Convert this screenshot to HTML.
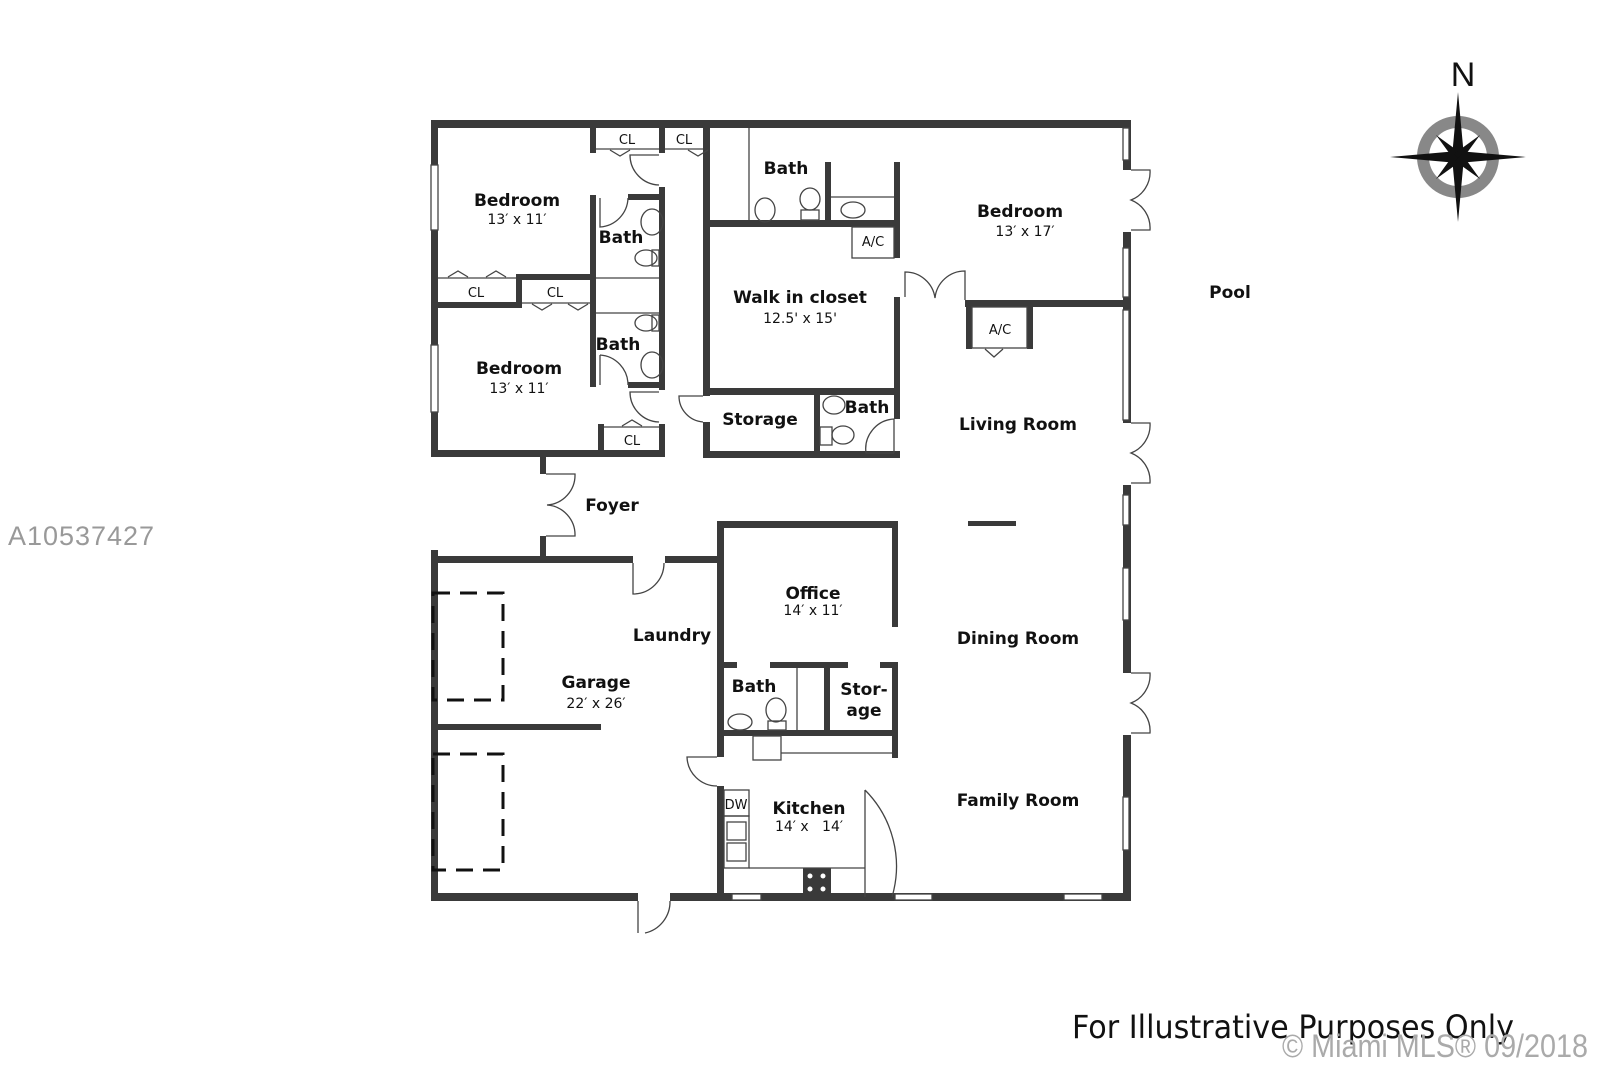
<!DOCTYPE html>
<html><head><meta charset="utf-8"><style>
html,body{margin:0;padding:0;background:#fff;}
svg{display:block}
text{font-family:"DejaVu Sans","Liberation Sans",sans-serif;fill:#111}
.b{font-weight:bold;font-size:17px}
.d{font-size:14px}
.s{font-size:13px}
</style></head><body>
<svg width="1600" height="1066" viewBox="0 0 1600 1066" xmlns="http://www.w3.org/2000/svg">
<g fill="#3a3a3a">
<rect x="431" y="120" width="700" height="8"/>
<rect x="431" y="120" width="7" height="337"/>
<rect x="431" y="450" width="234" height="7"/>
<rect x="540" y="453" width="6" height="21"/>
<rect x="540" y="536" width="6" height="26"/>
<rect x="431" y="556" width="202" height="7"/>
<rect x="665" y="556" width="55" height="7"/>
<rect x="431" y="550" width="7" height="350"/>
<rect x="431" y="893" width="207" height="8"/>
<rect x="670" y="893" width="461" height="8"/>
<rect x="1123" y="120" width="8" height="50"/>
<rect x="1123" y="232" width="8" height="191"/>
<rect x="1123" y="485" width="8" height="188"/>
<rect x="1123" y="735" width="8" height="166"/>
<rect x="438" y="724" width="163" height="6"/>
<rect x="590" y="128" width="6" height="25"/>
<rect x="659" y="128" width="6" height="25"/>
<rect x="659" y="187" width="6" height="203"/>
<rect x="590" y="195" width="6" height="192"/>
<rect x="628" y="194" width="35" height="6"/>
<rect x="628" y="382" width="35" height="6"/>
<rect x="431" y="302" width="90" height="6"/>
<rect x="516" y="274" width="6" height="34"/>
<rect x="516" y="274" width="78" height="6"/>
<rect x="598" y="424" width="6" height="30"/>
<rect x="659" y="424" width="6" height="30"/>
<rect x="703" y="124" width="7" height="272"/>
<rect x="703" y="422" width="7" height="35"/>
<rect x="703" y="220" width="195" height="7"/>
<rect x="825" y="162" width="6" height="62"/>
<rect x="894" y="162" width="6" height="96"/>
<rect x="894" y="297" width="6" height="122"/>
<rect x="703" y="388" width="197" height="7"/>
<rect x="703" y="451" width="197" height="7"/>
<rect x="814" y="388" width="6" height="68"/>
<rect x="965" y="300" width="166" height="7"/>
<rect x="966" y="303" width="6" height="46"/>
<rect x="1027" y="303" width="6" height="46"/>
<rect x="968" y="521" width="48" height="5"/>
<rect x="717" y="521" width="181" height="7"/>
<rect x="717" y="521" width="7" height="236"/>
<rect x="892" y="521" width="6" height="106"/>
<rect x="717" y="662" width="20" height="6"/>
<rect x="770" y="662" width="78" height="6"/>
<rect x="880" y="662" width="18" height="6"/>
<rect x="892" y="662" width="6" height="96"/>
<rect x="824" y="662" width="6" height="72"/>
<rect x="717" y="730" width="181" height="6"/>
<rect x="717" y="786" width="7" height="114"/>
<rect x="803" y="868" width="28" height="28"/>
</g>
<g fill="none" stroke="#444" stroke-width="1.3">
<rect x="431" y="165" width="7" height="65" fill="#fff"/>
<rect x="431" y="345" width="7" height="67" fill="#fff"/>
<rect x="1123" y="128" width="6" height="32" fill="#fff"/>
<rect x="1123" y="248" width="6" height="49" fill="#fff"/>
<rect x="1123" y="310" width="6" height="110" fill="#fff"/>
<rect x="1123" y="495" width="6" height="30" fill="#fff"/>
<rect x="1123" y="568" width="6" height="52" fill="#fff"/>
<rect x="1123" y="797" width="6" height="53" fill="#fff"/>
<rect x="732" y="894" width="29" height="6" fill="#fff"/>
<rect x="895" y="894" width="37" height="6" fill="#fff"/>
<rect x="1064" y="894" width="38" height="6" fill="#fff"/>
<path d="M596 149H659M665 149H703"/>
<path d="M610 150l10 6 10-6M688 150l10 6 10-6"/>
<path d="M438 278H516M448 277l10-6 10 6M486 277l10-6 10 6"/>
<path d="M522 303H590M532 304l10 6 10-6M568 304l10 6 10-6"/>
<path d="M604 427H659M622 426l10-6 10 6"/>
<path d="M596 278H659M596 313H659"/>
<path d="M659 155H630 A30 30 0 0 0 659 185"/>
<path d="M600 198V227 A30 30 0 0 0 628 198"/>
<path d="M600 355V385 M600 355 A30 30 0 0 1 628 385"/>
<path d="M659 392H630 A30 30 0 0 0 659 422"/>
<path d="M546 474H575 A30 30 0 0 1 547 505 A30 30 0 0 1 575 536H546"/>
<path d="M633 563V594 A31 31 0 0 0 664 563"/>
<path d="M638 901V933 M670 901 A32 32 0 0 1 645 933"/>
<path d="M717 757H687 A30 30 0 0 0 717 786"/>
<path d="M703 396H679 A26 26 0 0 0 703 422"/>
<path d="M894 419V453 M894 419 A30 30 0 0 0 866 453H894"/>
<path d="M905 297V272 A30 30 0 0 1 935 298 A30 30 0 0 1 965 271V300"/>
<path d="M1131 170H1150 A30 30 0 0 1 1131 200 A30 30 0 0 1 1150 230H1131"/>
<path d="M1131 423H1150 A30 30 0 0 1 1131 453 A30 30 0 0 1 1150 483H1131"/>
<path d="M1131 673H1150 A30 30 0 0 1 1131 703 A30 30 0 0 1 1150 733H1131"/>
<path d="M865 790V897 M865 790 A108 108 0 0 1 892 897"/>
<path d="M749 128V220M831 197H894"/>
<rect x="852" y="227" width="42" height="31"/>
<rect x="972" y="307" width="55" height="41"/>
<path d="M985 349l9 8 9-8"/>
<path d="M797 668V730M781 753H892"/>
<rect x="753" y="736" width="28" height="24"/>
<rect x="724" y="790" width="25" height="26"/>
<rect x="724" y="816" width="25" height="52"/>
<path d="M749 868H865"/>
<ellipse cx="652" cy="222" rx="11" ry="13"/>
<ellipse cx="646" cy="258" rx="11" ry="8"/><rect x="652" y="250" width="7" height="16"/>
<ellipse cx="646" cy="323" rx="11" ry="8"/><rect x="652" y="315" width="7" height="16"/>
<ellipse cx="652" cy="365" rx="11" ry="13"/>
<ellipse cx="765" cy="210" rx="10" ry="12"/>
<ellipse cx="810" cy="199" rx="10" ry="11"/><rect x="801" y="210" width="18" height="10"/>
<ellipse cx="853" cy="210" rx="12" ry="8"/>
<ellipse cx="834" cy="405" rx="11" ry="9"/>
<ellipse cx="843" cy="435" rx="11" ry="9"/><rect x="820" y="427" width="12" height="18"/>
<ellipse cx="740" cy="722" rx="12" ry="8"/>
<ellipse cx="776" cy="710" rx="10" ry="12"/><rect x="768" y="721" width="18" height="9"/>
<rect x="727" y="822" width="19" height="18"/><rect x="727" y="843" width="19" height="18"/>
</g>
<g fill="none" stroke="#111" stroke-width="3" stroke-dasharray="17,10">
<rect x="433" y="593" width="70" height="107"/>
<rect x="433" y="754" width="70" height="116"/>
</g>
<g fill="#fff"><circle cx="810" cy="876" r="2.5"/><circle cx="823" cy="876" r="2.5"/><circle cx="810" cy="889" r="2.5"/><circle cx="823" cy="889" r="2.5"/></g>
<text class="b" x="517" y="206" text-anchor="middle">Bedroom</text>
<text class="d" x="517" y="224" text-anchor="middle">13′ x 11′</text>
<text class="b" x="621" y="243" text-anchor="middle">Bath</text>
<text class="b" x="618" y="350" text-anchor="middle">Bath</text>
<text class="b" x="519" y="374" text-anchor="middle">Bedroom</text>
<text class="d" x="519" y="393" text-anchor="middle">13′ x 11′</text>
<text class="s" x="627" y="144" text-anchor="middle">CL</text>
<text class="s" x="684" y="144" text-anchor="middle">CL</text>
<text class="s" x="476" y="297" text-anchor="middle">CL</text>
<text class="s" x="555" y="297" text-anchor="middle">CL</text>
<text class="s" x="632" y="445" text-anchor="middle">CL</text>
<text class="b" x="786" y="174" text-anchor="middle">Bath</text>
<text class="s" x="873" y="246" text-anchor="middle">A/C</text>
<text class="s" x="1000" y="334" text-anchor="middle">A/C</text>
<text class="b" x="1020" y="217" text-anchor="middle">Bedroom</text>
<text class="d" x="1025" y="236" text-anchor="middle">13′ x 17′</text>
<text class="b" x="800" y="303" text-anchor="middle">Walk in closet</text>
<text class="d" x="800" y="323" text-anchor="middle">12.5' x 15'</text>
<text class="b" x="760" y="425" text-anchor="middle">Storage</text>
<text class="b" x="867" y="413" text-anchor="middle">Bath</text>
<text class="b" x="1018" y="430" text-anchor="middle">Living Room</text>
<text class="b" x="1230" y="298" text-anchor="middle">Pool</text>
<text class="b" x="612" y="511" text-anchor="middle">Foyer</text>
<text class="b" x="813" y="599" text-anchor="middle">Office</text>
<text class="d" x="813" y="615" text-anchor="middle">14′ x 11′</text>
<text class="b" x="672" y="641" text-anchor="middle">Laundry</text>
<text class="b" x="596" y="688" text-anchor="middle">Garage</text>
<text class="d" x="596" y="708" text-anchor="middle">22′ x 26′</text>
<text class="b" x="754" y="692" text-anchor="middle">Bath</text>
<text class="b" x="864" y="695" text-anchor="middle">Stor-</text>
<text class="b" x="864" y="716" text-anchor="middle">age</text>
<text class="s" x="736" y="809" text-anchor="middle">DW</text>
<text class="b" x="809" y="814" text-anchor="middle">Kitchen</text>
<text class="d" x="809" y="831" text-anchor="middle">14′ x &#160;&#160;14′</text>
<text class="b" x="1018" y="644" text-anchor="middle">Dining Room</text>
<text class="b" x="1018" y="806" text-anchor="middle">Family Room</text>
<text x="8" y="545" style="font-family:'Liberation Sans',sans-serif;font-size:27px;fill:#999" textLength="146">A10537427</text>
<text x="1072" y="1038" style="font-size:32px;fill:#111;font-family:'DejaVu Sans',sans-serif" textLength="442" lengthAdjust="spacingAndGlyphs">For Illustrative Purposes Only</text>
<text x="1282" y="1057" style="font-family:'Liberation Sans',sans-serif;font-size:32px;fill:#aaa" textLength="306" lengthAdjust="spacingAndGlyphs">© Miami MLS® 09/2018</text>
<text x="1463" y="86" text-anchor="middle" style="font-family:'Liberation Sans',sans-serif;font-size:34px;fill:#111">N</text>
<g transform="translate(1458,157)">
<circle r="35" fill="none" stroke="#888" stroke-width="12"/>
<g fill="#111">
<polygon points="0,-65 6,0 -6,0"/><polygon points="0,65 6,0 -6,0"/>
<polygon points="-68,0 0,-6 0,6"/><polygon points="68,0 0,-6 0,6"/>
<polygon points="-22,-22 4,-3 -3,4"/><polygon points="22,-22 3,4 -4,-3"/>
<polygon points="-22,22 -4,-3 3,4"/><polygon points="22,22 -3,4 4,-3"/>
</g></g>
</svg>
</body></html>
